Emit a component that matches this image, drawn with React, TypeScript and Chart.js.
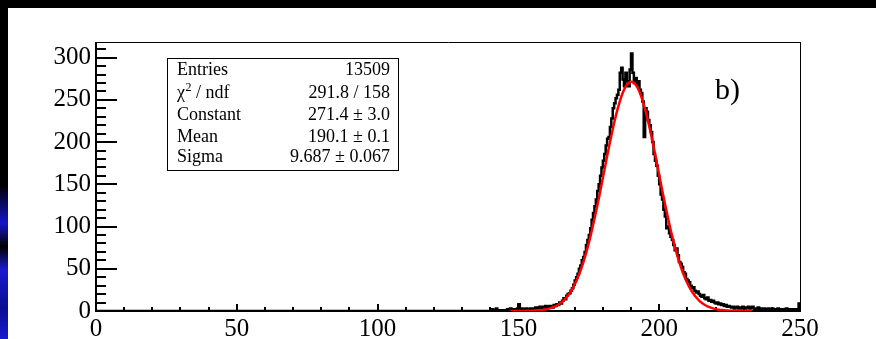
import React, { useEffect, useRef } from "react";
import { Chart, registerables } from "chart.js";

Chart.register(...registerables);

// Histogram: counts per 0.5-wide bin, starting at 140 (bins below are empty)
const binStart = 140;
const binWidth = 0.5;
const histMin = 0;
const histMax = 250;
const counts = [
  0, 2, 1, 0, 3, 1, 0, 1, 0, 1, 1, 0, 2, 1, 3, 2, 1, 2, 1, 3,
  8, 2, 3, 1, 2, 3, 2, 1, 3, 2, 3, 2, 4, 3, 4, 5, 3, 5, 4, 6,
  5, 4, 6, 5, 4, 7, 6, 8, 7, 10, 9, 12, 15, 14, 18, 20, 21, 24, 27, 31,
  36, 40, 44, 50, 54, 60, 64, 70, 78, 84, 90, 98, 108, 116, 124, 132, 142, 150, 160, 170,
  178, 186, 196, 204, 206, 218, 228, 240, 246, 252, 256, 262, 282, 288, 274, 266, 282, 272, 266, 286,
  305, 282, 270, 276, 268, 272, 262, 258, 248, 206, 240, 236, 226, 220, 212, 200, 186, 178, 172, 160,
  150, 138, 132, 120, 112, 98, 100, 92, 88, 84, 78, 72, 74, 66, 58, 56, 52, 46, 44, 38,
  36, 34, 30, 27, 28, 24, 22, 23, 20, 18, 17, 19, 15, 14, 16, 12, 13, 11, 12, 10,
  9, 10, 8, 9, 7, 8, 6, 7, 5, 6, 5, 4, 5, 3, 4, 5, 3, 4, 3, 5,
  4, 3, 4, 5, 3, 4, 5, 3, 2, 3, 4, 2, 3, 2, 3, 2, 1, 3, 2, 2,
  3, 1, 2, 2, 3, 1, 2, 2, 1, 2, 3, 1, 2, 2, 1, 2, 2, 1, 2, 9,
];

// Gaussian fit curve, sampled every 1 unit from 147.1 to 233.1
const fitStart = 147.1;
const fitStep = 1;
const fitValues = [
  0.01, 0.02, 0.03, 0.05, 0.08, 0.12, 0.18, 0.27, 0.4, 0.6, 0.8, 1.2, 1.6, 2.2, 3.1, 4.2, 5.6, 7.4, 9.7, 12.6,
  16.2, 20.6, 25.9, 32.2, 39.7, 48.3, 58.2, 69.4, 81.9, 95.6, 110.4, 126.1, 142.5, 159.4, 176.4, 193.2, 209.1,
  224.1, 237.5, 249.2, 258.7, 265.7, 270.0, 271.4, 270.0, 265.7, 258.7, 249.2, 237.5, 224.1, 209.1, 193.2,
  176.4, 159.4, 142.5, 126.1, 110.4, 95.6, 81.9, 69.4, 58.2, 48.3, 39.7, 32.2, 25.9, 20.6, 16.2, 12.6, 9.7,
  7.4, 5.6, 4.2, 3.1, 2.2, 1.6, 1.2, 0.8, 0.6, 0.4, 0.27, 0.18, 0.12, 0.08, 0.05, 0.03, 0.02, 0.01,
];

const xTicks = [0, 50, 100, 150, 200, 250];
const xMinorStep = 10;
const yTicks = [0, 50, 100, 150, 200, 250, 300];
const yMinorStep = 10;
const yMax = 318.5;

const statsLabels = ["Entries", "χ2 / ndf", "Constant", "Mean", "Sigma"];
const statsValues = ["13509", "291.8 / 158", "271.4 ± 3.0", "190.1 ± 0.1", "9.687 ± 0.067"];
const panelLabel = "b)";

const FONT = "'Liberation Serif', 'Times New Roman', serif";
const W = 868;
const H = 331;

const decorPlugin = {
  id: "rootDecor",
  beforeDatasetsDraw(chart: any) {
    const ctx = chart.ctx;
    const { left, right, top, bottom } = chart.chartArea;
    const xs = chart.scales.x;
    const ys = chart.scales.y;
    ctx.save();
    ctx.strokeStyle = "#000";
    ctx.lineCap = "butt";

    // frame (thin)
    ctx.lineWidth = 1;
    ctx.beginPath();
    ctx.moveTo(left, top + 0.5);
    ctx.lineTo(right + 1, top + 0.5);
    ctx.moveTo(right + 0.5, top);
    ctx.lineTo(right + 0.5, bottom);
    ctx.stroke();

    // axes (thick)
    ctx.lineWidth = 2;
    ctx.beginPath();
    ctx.moveTo(left, top);
    ctx.lineTo(left, bottom + 1);
    ctx.moveTo(left - 1, bottom);
    ctx.lineTo(right + 1, bottom);
    ctx.stroke();

    // ticks (inside)
    ctx.lineWidth = 2;
    ctx.beginPath();
    for (let v = 0; v <= yMax; v += yMinorStep) {
      const y = Math.round(ys.getPixelForValue(v));
      const len = yTicks.includes(v) ? 21 : 10;
      ctx.moveTo(left, y);
      ctx.lineTo(left + len, y);
    }
    for (let v = histMin; v <= histMax; v += xMinorStep) {
      const x = Math.round(xs.getPixelForValue(v));
      const len = xTicks.includes(v) ? 7 : 4;
      ctx.moveTo(x, bottom);
      ctx.lineTo(x, bottom - len);
    }
    ctx.stroke();
    ctx.restore();
  },
  afterDraw(chart: any) {
    const ctx = chart.ctx;
    ctx.save();
    ctx.strokeStyle = "#000";
    // stats box
    const bx = 159, by = 50, bw = 231, bh = 112;
    ctx.fillStyle = "#fff";
    ctx.fillRect(bx, by, bw, bh);
    ctx.lineWidth = 1;
    ctx.strokeRect(bx + 0.5, by + 0.5, bw, bh);
    ctx.fillStyle = "#000";
    ctx.textBaseline = "alphabetic";
    const baselines = [67, 89.5, 112, 133.5, 154];
    const fs = 18;
    statsLabels.forEach((lab, i) => {
      const yb = baselines[i];
      ctx.textAlign = "left";
      if (lab.startsWith("χ2")) {
        ctx.font = `${fs}px ${FONT}`;
        ctx.fillText("χ", 169, yb);
        const w1 = ctx.measureText("χ").width;
        ctx.font = `${Math.round(fs * 0.65)}px ${FONT}`;
        ctx.fillText("2", 169 + w1 + 0.5, yb - 7);
        const w2 = ctx.measureText("2").width;
        ctx.font = `${fs}px ${FONT}`;
        ctx.fillText(lab.slice(2), 169 + w1 + 0.5 + w2, yb);
      } else {
        ctx.font = `${fs}px ${FONT}`;
        ctx.fillText(lab, 169, yb);
      }
      ctx.font = `${fs}px ${FONT}`;
      ctx.textAlign = "right";
      ctx.fillText(statsValues[i], 382, yb);
    });

    // panel label
    ctx.font = `30px ${FONT}`;
    ctx.textAlign = "left";
    ctx.fillText(panelLabel, 707, 90.5);
    ctx.restore();
  },
};

export default function App() {
  const ref = useRef<HTMLCanvasElement | null>(null);

  useEffect(() => {
    if (!ref.current) return;
    const histPoints: { x: number; y: number }[] = [{ x: histMin, y: 0 }];
    counts.forEach((c, i) => histPoints.push({ x: binStart + i * binWidth, y: c }));
    histPoints.push({ x: histMax, y: counts[counts.length - 1] });

    const fitPoints = fitValues.map((v, i) => ({ x: fitStart + i * fitStep, y: v }));

    const chart = new Chart(ref.current, {
      type: "line",
      data: {
        datasets: [
          {
            label: "fit",
            data: fitPoints,
            borderColor: "#ff0000",
            borderWidth: 2.5,
            pointRadius: 0,
            cubicInterpolationMode: "monotone",
            fill: false,
            order: 0,
          },
          {
            label: "hist",
            data: histPoints,
            borderColor: "#000",
            borderWidth: 2.5,
            pointRadius: 0,
            stepped: true,
            fill: false,
            order: 1,
          } as any,
        ],
      },
      options: {
        animation: false,
        responsive: false,
        devicePixelRatio: 1,
        events: [],
        layout: { padding: { top: 34, right: 76, left: 0, bottom: 0 } },
        plugins: { legend: { display: false }, tooltip: { enabled: false } },
        scales: {
          x: {
            type: "linear",
            min: histMin,
            max: histMax,
            grid: { display: false, drawTicks: false },
            border: { display: false },
            afterBuildTicks: (s: any) => {
              s.ticks = xTicks.map((v) => ({ value: v }));
            },
            afterFit: (s: any) => {
              s.height = 28;
            },
            ticks: {
              autoSkip: false,
              maxRotation: 0,
              minRotation: 0,
              padding: 3,
              color: "#000",
              font: { family: FONT, size: 25 },
              callback: (v: any) => String(v),
            },
          },
          y: {
            type: "linear",
            min: 0,
            max: yMax,
            grid: { display: false, drawTicks: false },
            border: { display: false },
            afterBuildTicks: (s: any) => {
              s.ticks = yTicks.map((v) => ({ value: v }));
            },
            afterFit: (s: any) => {
              s.width = 88;
            },
            ticks: {
              autoSkip: false,
              padding: 5,
              color: "#000",
              font: { family: FONT, size: 25 },
              callback: (v: any) => String(v),
            },
          },
        },
      } as any,
      plugins: [decorPlugin],
    });
    return () => chart.destroy();
  }, []);

  return (
    <div
      style={{
        position: "fixed",
        left: 0,
        top: 0,
        width: 876,
        height: 339,
        background: "#000",
        overflow: "hidden",
      }}
    >
      <div
        style={{
          position: "absolute",
          left: 0,
          top: 185,
          width: 8,
          height: 154,
          background: "linear-gradient(180deg, #000 0%, #1515c8 25%, #000 40%, #1a1ad0 55%, #0c0c90 80%, #1a1ad0 100%)",
        }}
      />
      <canvas
        ref={ref}
        width={W}
        height={H}
        style={{ position: "absolute", left: 8, top: 8, width: W, height: H, background: "#fff" }}
      />
    </div>
  );
}
